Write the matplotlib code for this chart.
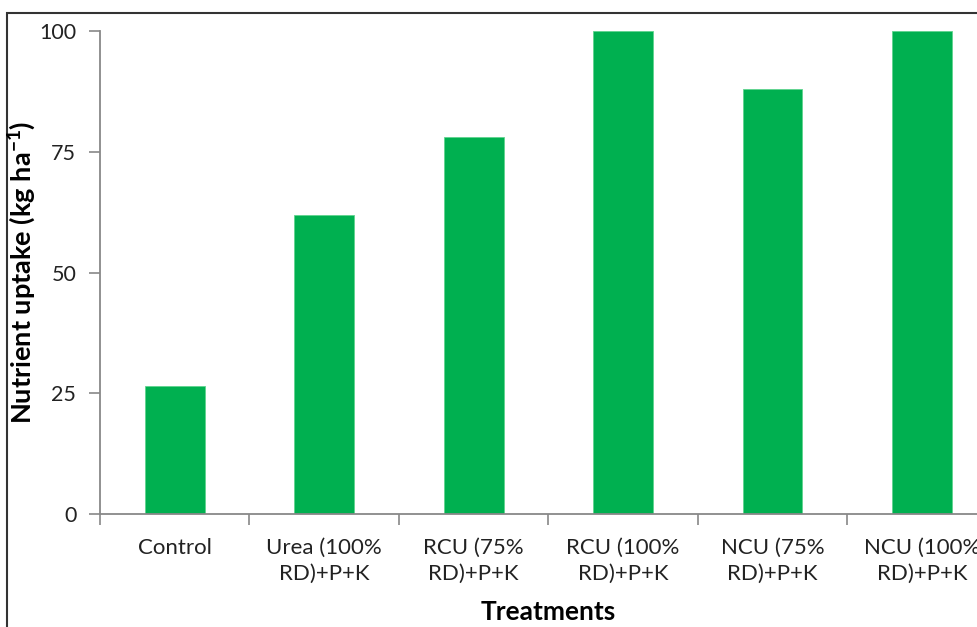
import numpy as np
import matplotlib.pyplot as plt
from matplotlib.patches import Rectangle

# Nutrient uptake by treatment
treatments = ["Control", "Urea (100%\nRD)+P+K", "RCU (75%\nRD)+P+K",
              "RCU (100%\nRD)+P+K", "NCU (75%\nRD)+P+K", "NCU (100%\nRD)+P+K"]
uptake = [26.5, 62.0, 78.0, 100.0, 88.0, 100.0]
yticks = [0, 25, 50, 75, 100]

plt.rcParams['font.family'] = ['Lato', 'DejaVu Sans']
plt.rcParams['mathtext.fontset'] = 'custom'
plt.rcParams['mathtext.bf'] = 'Lato:bold'
plt.rcParams['mathtext.rm'] = 'Lato'

fig = plt.figure(figsize=(9.78, 6.27), dpi=100)
ax = fig.add_axes([0.1022, 0.1802, 0.917, 0.7703])

x = np.arange(len(treatments))
ax.bar(x, uptake, width=0.40, color='#00B050', edgecolor='#5fd48f', linewidth=0.6)

ax.set_xlim(-0.5, len(treatments) - 0.5)
ax.set_ylim(0, 100)
ax.set_yticks(yticks)
ax.set_yticklabels([str(v) for v in yticks], fontsize=15.5, color='#222222')

# category labels centred, boundary ticks as minor ticks
ax.set_xticks(x)
ax.set_xticklabels(treatments, fontsize=16, color='#222222', linespacing=1.4)
ax.set_xticks(np.arange(-0.5, len(treatments)), minor=True)
ax.tick_params(axis='x', which='major', length=0, pad=17)
ax.tick_params(axis='x', which='minor', length=8, width=1.2, color='#888888', direction='out')
ax.tick_params(axis='y', length=8, width=1.2, color='#888888', direction='out', pad=9)

for s in ['top', 'right']:
    ax.spines[s].set_visible(False)
for s in ['left', 'bottom']:
    ax.spines[s].set_color('#888888')
    ax.spines[s].set_linewidth(1.3)

fig.text(22 / 978, 0.5 * (1 - 31 / 627) + 0.5 * (1 - 514 / 627),
         r'Nutrient uptake (kg ha$^{\mathbf{-1}}$)', fontsize=19.5, fontweight='bold',
         rotation=90, ha='center', va='center', color='black')
fig.text(548 / 978, 1 - 612 / 627, 'Treatments', fontsize=19, fontweight='bold',
         ha='center', va='center', color='black')

# outer chart frame
fig.patches.append(Rectangle((0.0072, -0.05), 1.2, 0.979 + 0.05, transform=fig.transFigure,
                             fill=False, edgecolor='#333333', linewidth=1.5))

fig.savefig('out.png', dpi=100)
